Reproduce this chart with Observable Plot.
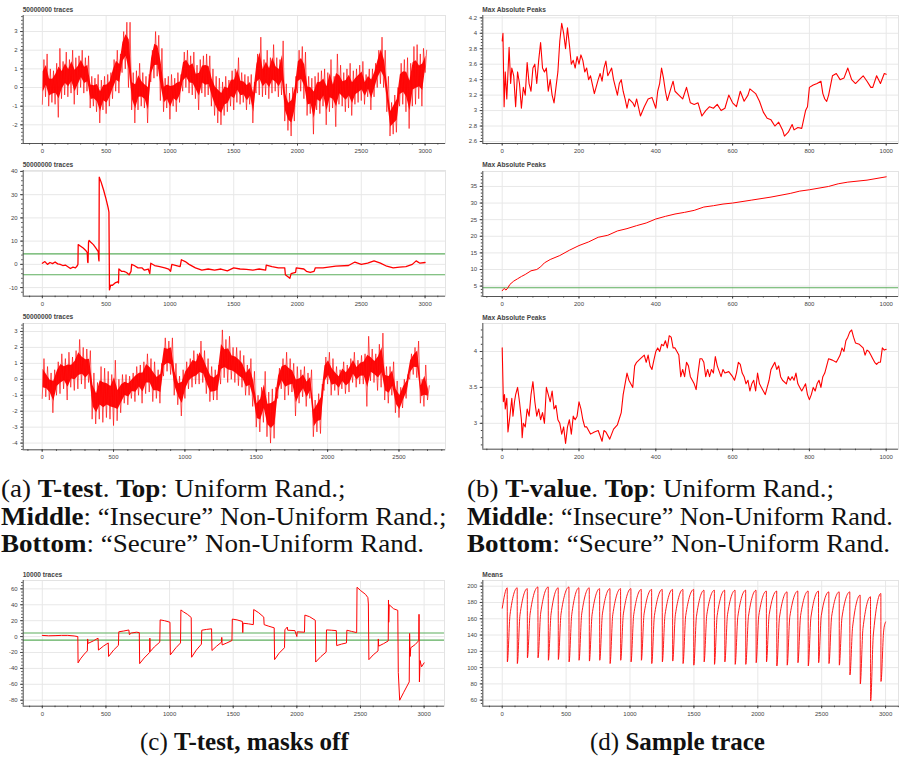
<!DOCTYPE html>
<html><head><meta charset="utf-8">
<script src="https://cdn.jsdelivr.net/npm/d3@7"></script>
<script src="https://cdn.jsdelivr.net/npm/@observablehq/plot@0.6"></script>
<style>
body{margin:0;background:#fff;}
#page{position:relative;width:899px;height:761px;overflow:hidden;background:#fff;}
.ptitle{position:absolute;font:bold 6.6px "Liberation Sans",Arial,sans-serif;color:#444;white-space:nowrap;line-height:1;}
.cap{position:absolute;font-family:"Liberation Serif","Times New Roman",serif;font-size:25px;white-space:nowrap;line-height:1;color:#111;transform-origin:0 0;}
.wide{transform:scaleX(1.08);}
.wide2{transform:scaleX(1.05);}
</style></head><body><div id="page"></div>
<script>
// ---------- DATA ----------
// (a) top: uniform random t-test, per 25-sample bin: low / high envelope
const tA1Step = 25;
const loA1 = [-0.9,-0.5,-1.0,-0.8,-0.9,-1.6,-0.6,-0.4,-0.5,-0.3,
 -0.9,-0.4,0.0,-0.3,-0.2,-1.1,-1.0,-1.3,-1.9,-1.2,
 -1.4,-1.0,-0.6,-0.2,-0.3,0.8,1.0,0.0,-1.2,-1.9,
 -1.2,-1.0,-1.1,-1.9,0.3,0.5,0.6,-0.7,-1.3,-1.1,
 -1.7,-1.0,-1.3,-0.8,-0.2,0.0,-0.3,-0.4,-0.6,-1.2,
 -0.3,-0.5,-0.4,-1.0,-1.5,-1.9,-2.0,-1.5,-1.3,-1.0,
 -1.2,-0.8,-0.9,-0.8,-1.2,-0.9,-1.9,-0.3,-0.4,-0.5,
 -0.4,-0.6,-0.3,-0.2,-0.5,-0.4,-1.8,-2.3,-2.6,-1.8,
 -0.3,-0.2,-0.6,-1.5,-1.4,-2.5,-1.2,-1.4,-1.0,-2.0,
 -1.3,-1.1,-2.1,-0.9,-1.0,-1.3,-1.1,-1.5,-0.9,-0.8,
 -0.7,-0.9,-0.5,-1.2,-0.5,0.0,0.2,0.0,-1.3,-2.6,
 -2.5,-2.4,-1.0,-0.9,-1.3,-2.2,-1.0,-0.9,-0.6,-1.0,
 0.8];
const hiA1 = [1.5,1.8,1.0,0.9,1.3,2.1,1.4,1.9,1.5,2.0,
 1.6,1.7,2.0,1.6,1.7,0.6,0.5,0.7,0.4,0.6,
 0.7,0.8,1.5,2.0,1.8,3.0,3.5,3.5,0.8,0.9,
 1.3,0.8,0.6,0.7,2.0,3.0,2.8,2.1,0.5,0.6,
 0.7,0.5,0.8,0.7,1.9,2.0,1.7,1.9,1.2,1.5,
 1.7,1.8,1.7,1.0,0.6,0.5,0.3,0.6,0.4,0.9,
 1.0,1.6,0.8,0.7,0.6,0.7,0.3,1.8,2.7,1.5,
 2.0,1.6,2.3,1.6,1.5,2.5,0.2,-0.3,0.0,0.6,
 2.0,2.2,1.9,0.6,0.5,0.6,0.8,0.9,1.0,0.8,
 1.5,0.6,1.8,1.2,0.8,1.0,1.3,0.9,1.0,1.2,
 1.4,0.7,1.0,1.0,1.3,2.0,2.7,2.0,0.6,-0.8,
 -0.4,0.0,1.3,1.5,1.6,1.3,2.2,2.3,1.8,2.1,
 2.0];

// (a) middle: "insecure" non-uniform, [sample, t]
const insecureT = [[0,0.5],[20,1.2],[40,0],[60,0.8],[80,0.3],[100,1],[120,0.2],[140,0],[160,-0.5],[180,-0.3],[200,-1],[220,-1.8],[240,-1.2],[260,-1.5],[275,-0.5],[279,0],[281,8.5],[300,7.8],[320,7],[340,6],[352,5],[355,1],[358,0.8],[362,9.5],[366,10.3],[380,9.5],[400,8.5],[420,7],[438,5.5],[442,2],[444,1.5],[446,37.5],[460,35.5],[480,32],[500,28],[515,24.5],[522,22.5],[526,-11],[535,-9],[550,-9],[570,-8],[590,-7.5],[597,-8],[600,-2],[620,-3],[640,-3],[660,-3.5],[680,-4.5],[695,-3],[700,0],[720,-0.5],[750,-1.5],[780,-1.5],[800,-2.5],[830,-2],[842,-4],[850,0.5],[880,-0.5],[920,-1],[960,-1.5],[990,-2],[1005,-3],[1015,0],[1050,-0.5],[1080,-1],[1090,2],[1120,1.2],[1150,0],[1200,-1.5],[1250,-2.5],[1300,-2],[1350,-2.5],[1400,-2],[1450,-2.8],[1500,-1.5],[1550,-2],[1600,-2.2],[1650,-2.5],[1700,-2],[1750,-2.5],[1755,-0.3],[1800,-1],[1850,-1.5],[1900,-1.5],[1905,-4.5],[1940,-6],[1950,-4],[1985,-3.5],[1990,-1.5],[2050,-2],[2070,-3],[2100,-3.5],[2130,-3],[2140,-1.5],[2200,-1.5],[2300,-0.8],[2400,-0.5],[2450,1],[2500,0],[2550,0.5],[2600,1.5],[2650,0.5],[2700,-0.8],[2750,-1.5],[2800,-1.2],[2850,-1],[2900,0],[2930,1.5],[2960,0.5],[3000,0.8]];
const thresholds = [4.5, -4.5];

// (a) bottom: "secure" non-uniform, per 25-sample bin low / high
const tA3Step = 25;
const loA3 = [-1.2,-1.1,-1.3,-2.1,-1.0,-0.9,-0.6,-1.3,-0.5,-0.7,
 -0.6,-0.3,-0.6,-0.2,-2.5,-2.8,-2.5,-2.7,-2.4,-2.5,
 -2.9,-2.6,-2.1,-1.5,-1.6,-1.2,-1.4,-1.0,-1.5,-0.9,
 -0.8,-1.4,-1.2,-1.5,0.2,0.5,0.3,-1.0,-1.6,-2.3,
 -1.2,-0.6,-0.5,-0.3,-0.3,-0.2,-0.9,-1.4,-1.3,-1.3,
 -0.3,0.1,-0.2,0.0,-0.2,-0.4,-0.5,-1.0,-1.0,-1.7,
 -3.0,-3.3,-2.7,-3.6,-4.0,-3.7,-1.2,-0.6,-1.3,-1.0,
 -0.8,-2.3,-1.5,-1.1,-1.7,-1.2,-3.6,-3.3,-3.4,-0.7,
 -0.3,-1.0,-0.7,-1.0,-0.6,-0.9,-0.8,-0.2,-0.5,-0.3,
 -0.3,-1.7,-0.1,-0.2,-0.7,-0.5,-1.3,-1.5,-1.0,-2.1,
 -2.4,-1.8,-1.2,0.0,0.3,0.1,-1.5,-1.7,-1.3];
const hiA3 = [1.3,0.8,0.4,0.6,1.1,1.6,1.3,1.7,1.4,1.8,
 2.5,2.0,1.9,1.8,0.4,-0.2,0.8,0.7,0.5,0.3,
 1.2,0.0,0.3,0.3,0.2,0.4,0.8,0.9,1.1,1.6,
 1.3,1.1,0.6,1.0,2.6,2.4,2.6,1.0,0.2,0.6,
 1.1,1.3,1.8,1.6,2.4,1.8,1.3,0.8,0.6,0.9,
 3.1,2.5,2.7,2.0,2.0,1.8,1.5,0.9,1.3,0.5,
 -1.0,-0.5,0.5,-0.8,-0.6,-0.5,0.7,1.3,1.7,1.3,
 1.0,0.8,0.6,0.8,0.4,0.6,-1.3,-0.9,-0.3,1.4,
 1.7,1.3,0.8,0.6,1.1,0.9,1.3,1.7,1.2,1.5,
 1.6,2.7,1.9,1.6,2.2,2.9,0.8,0.8,1.1,-0.1,
 -0.5,0.0,0.3,1.6,2.0,2.4,0.0,0.9,-0.4];

// (b) top: max absolute peaks, uniform
const peaksUniform = [[0,3.9],[2,4.0],[5,3.05],[8,3.5],[12,3.15],[18,3.82],[22,3.35],[25,3.55],[30,3.45],[35,3.05],[40,3.5],[45,3.35],[50,3.03],[55,3.3],[60,3.2],[65,3.62],[70,3.35],[75,3.25],[80,3.55],[85,3.6],[90,3.35],[95,3.65],[100,3.88],[105,3.55],[110,3.5],[115,3.55],[120,3.25],[125,3.4],[130,3.2],[135,3.1],[140,3.3],[145,3.5],[150,3.9],[155,4.13],[160,4.0],[165,3.8],[170,4.07],[175,3.85],[180,3.6],[185,3.65],[190,3.55],[195,3.7],[200,3.6],[205,3.72],[210,3.65],[215,3.5],[220,3.55],[225,3.4],[230,3.45],[240,3.22],[250,3.4],[255,3.48],[260,3.38],[265,3.55],[270,3.64],[275,3.45],[280,3.5],[285,3.55],[290,3.4],[295,3.3],[300,3.2],[305,3.35],[310,3.4],[315,3.25],[320,3.15],[325,3.03],[330,3.15],[340,3.1],[345,3.05],[350,3.15],[360,2.93],[370,3.05],[380,3.15],[390,3.17],[400,3.03],[405,3.25],[410,3.35],[415,3.55],[420,3.42],[425,3.25],[430,3.13],[440,3.3],[445,3.38],[450,3.25],[460,3.2],[470,3.15],[480,3.3],[490,3.1],[500,3.08],[510,3.1],[520,2.93],[530,3.0],[540,3.05],[550,3.03],[560,3.08],[570,3.0],[580,3.03],[590,3.2],[600,3.1],[610,3.05],[620,3.25],[630,3.12],[640,3.2],[645,3.28],[660,3.22],[670,3.12],[680,2.98],[690,2.9],[700,2.88],[710,2.8],[720,2.85],[730,2.75],[735,2.67],[745,2.72],[755,2.82],[760,2.75],[770,2.78],[780,2.77],[790,3.0],[795,3.05],[800,3.3],[810,3.33],[820,3.35],[830,3.38],[835,3.22],[840,3.15],[845,3.12],[850,3.2],[860,3.45],[870,3.48],[880,3.4],[890,3.42],[900,3.55],[910,3.4],[920,3.35],[930,3.4],[940,3.45],[950,3.38],[960,3.3],[965,3.3],[975,3.45],[985,3.35],[995,3.48],[1000,3.47]];

// (b) middle: max absolute peaks, insecure
const peaksInsecure = [[0,3.6],[5,4.3],[10,3.8],[15,4.5],[20,5.5],[30,6.5],[40,7.2],[50,7.9],[60,8.5],[75,9.6],[90,10],[100,10.8],[110,12],[125,13],[150,14.2],[175,15.8],[200,17.2],[225,18.3],[250,19.7],[275,20.3],[300,21.6],[325,22.3],[350,23.2],[375,24],[400,25.2],[425,26],[450,26.7],[475,27.2],[500,27.8],[525,28.8],[550,29.2],[575,29.7],[600,30],[650,30.9],[700,31.8],[750,32.9],[775,33.6],[800,34],[850,35],[875,35.8],[900,36.3],[950,36.9],[1000,37.9]];

// (b) bottom: max absolute peaks, secure
const peaksSecure = [[0,4.05],[3,3.3],[6,3.4],[8,3.2],[12,3.35],[15,2.88],[20,3.1],[25,3.35],[28,3.1],[32,3.3],[35,3.4],[40,3.5],[45,3.3],[50,3.05],[52,2.8],[55,3.0],[60,2.95],[65,3.2],[70,3.1],[75,3.4],[80,3.58],[85,3.3],[90,3.1],[95,3.2],[100,3.05],[105,3.15],[110,3.0],[115,3.5],[120,3.4],[125,3.3],[130,3.45],[135,3.2],[140,3.25],[145,3.05],[150,3.0],[155,2.85],[160,2.95],[165,2.72],[170,2.95],[175,3.05],[180,2.85],[185,3.1],[190,3.05],[195,3.1],[200,3.3],[205,3.2],[210,3.05],[215,2.95],[220,2.95],[230,2.85],[240,2.88],[250,2.9],[260,2.75],[265,2.9],[270,2.88],[280,2.78],[290,2.92],[300,2.98],[310,3.15],[315,3.4],[320,3.55],[325,3.7],[330,3.6],[340,3.5],[345,3.8],[350,3.85],[360,3.9],[370,3.95],[375,3.85],[380,3.95],[385,3.8],[390,3.75],[395,3.88],[400,4.0],[405,4.05],[410,4.0],[415,4.1],[420,4.08],[425,4.15],[430,4.05],[435,4.22],[440,4.2],[445,4.05],[450,4.05],[455,4.0],[460,3.95],[465,3.65],[470,3.75],[475,3.65],[480,3.85],[485,3.8],[490,3.65],[500,3.55],[505,3.47],[510,3.7],[515,3.9],[520,3.9],[525,3.85],[530,3.65],[535,3.75],[540,3.65],[545,3.75],[550,3.7],[555,3.93],[560,3.8],[570,3.65],[575,3.75],[580,3.7],[590,3.72],[600,3.65],[605,3.6],[610,3.7],[615,3.85],[620,3.82],[625,3.7],[630,3.65],[635,3.55],[640,3.6],[645,3.45],[650,3.55],[655,3.6],[660,3.45],[665,3.7],[670,3.55],[675,3.5],[680,3.45],[685,3.4],[690,3.5],[695,3.6],[700,3.75],[705,3.8],[710,3.85],[715,3.75],[720,3.8],[725,3.65],[730,3.6],[740,3.55],[745,3.65],[750,3.6],[755,3.65],[760,3.6],[765,3.7],[770,3.55],[775,3.5],[780,3.45],[785,3.5],[790,3.55],[795,3.4],[800,3.33],[805,3.4],[810,3.5],[815,3.45],[820,3.55],[825,3.6],[830,3.5],[835,3.65],[840,3.7],[845,3.8],[850,3.9],[860,3.88],[870,3.85],[875,3.9],[880,3.95],[885,4.05],[890,4.0],[895,4.15],[900,4.2],[905,4.27],[910,4.3],[915,4.2],[920,4.12],[930,4.1],[940,4.05],[945,3.95],[950,4.02],[955,4.0],[960,3.95],[965,3.9],[970,3.85],[975,3.82],[980,3.85],[985,3.85],[990,4.05],[995,4.02],[1000,4.03]];

// (c) T-test, masks off (10000 traces)
const masksOff = [[0,1.5],[50,1.0],[100,1.2],[150,1.5],[200,1.5],[250,0.8],[279,0],[281,-33],[300,-28],[330,-22],[354,-18],[356,-3],[360,-8.5],[400,-5.5],[438,-2],[441,-17],[480,-12],[518,-8],[521,-25],[560,-17],[598,-11],[601,6],[640,7],[680,8.3],[684,2.5],[700,4.5],[740,5.5],[762,5],[765,-34],[800,-27],[843,-20],[845,-2],[847,-19],[880,-13],[923,-7],[926,21],[960,20],[1003,18],[1006,-23],[1050,-14],[1086,-8],[1089,33.5],[1110,31],[1140,28],[1170,24],[1173,-26],[1210,-17],[1250,-9.5],[1253,8],[1290,9],[1330,9.8],[1333,-17.5],[1370,-12],[1408,-7],[1410,-1],[1413,-10.5],[1450,-8],[1490,-5],[1493,22],[1530,21],[1572,19],[1575,5],[1578,16.8],[1620,16],[1658,15],[1661,34],[1700,30],[1740,24.5],[1743,15],[1780,13],[1822,11],[1825,-29],[1860,-21],[1903,-14],[1906,8.5],[1925,12],[1928,8],[1985,7.5],[1988,5.9],[2000,0],[2003,6],[2060,5.5],[2063,27],[2100,25],[2145,20.5],[2148,-32],[2190,-25],[2230,-19.5],[2233,8.4],[2270,8],[2310,7.5],[2313,-11.3],[2350,-9.5],[2390,-8],[2393,8],[2430,6.5],[2470,5],[2473,62],[2500,58],[2540,53],[2558,49],[2562,41],[2566,-29],[2600,-23],[2638,-18],[2640,-3],[2643,-12],[2680,-9],[2718,-5.5],[2720,46],[2722,18],[2726,40],[2760,35],[2793,33],[2797,-45],[2808,-80],[2840,-70],[2883,-57],[2886,4],[2890,-25],[2895,-14],[2930,-10],[2958,-5],[2960,28],[2963,-57],[2968,-30],[2980,-38],[3000,-33]];

// (d) sample trace (means): start, drop samples, peak before drop, min after drop, knee value
const meansStart = [0, 173];
const meansEnd = [3000, 156];
const dropT = [39,117,196,279,360,438,522,600,681,762,843,926,1007,1088,1169,1252,1333,1414,1498,1579,1660,1741,1822,1905,1986,2067,2148,2229,2313,2394,2475,2556,2637,2720,2801,2882,2963];
const peakV = [198,198,197,199,199,198,199,198,198,197,197,197,197,196,196,196,196,196,196,195,195,195,195,195,195,194,194,193,194,194,194,193,193,193,189,187,191];
const minV = [107,105,112,112,109,110,107,109,108,109,105,109,107,109,105,107,108,105,103,107,104,107,104,104,106,107,102,103,106,102,106,105,103,91,80,59,83];
const kneeV = [165,165,166,167,166,166,165,166,165,166,165,166,165,166,164,165,165,164,163,165,164,165,163,163,164,165,162,163,164,162,164,163,162,150,148,140,145];

// tick labels
const xTicks3000 = [0,500,1000,1500,2000,2500,3000];
const xTicks2500 = [0,500,1000,1500,2000,2500];
const xTicks1000 = [0,200,400,600,800,1000];
const yTicksA1 = [-2,-1,0,1,2,3];
const yTicksA2 = [-10,0,10,20,30,40];
const yTicksA3 = [-4,-3,-2,-1,0,1,2,3];
const yTicksB1 = [2.6,2.8,3,3.2,3.4,3.6,3.8,4,4.2];
const yTicksB2 = [5,10,15,20,25,30,35];
const yTicksB3 = [3,3.5,4];
const yTicksC = [-80,-60,-40,-20,0,20,40,60];
const yTicksD = [60,80,100,120,140,160,180,200];

// ---------- BUILD ----------
const RED = "#ff0000", GREEN = "#5cae5c";
const page = document.getElementById("page");
const fmt = d => String(+d.toFixed(2));
const minor = (lo, hi, step) => d3.range(Math.ceil(lo/step)*step, hi, step).map(v => +v.toFixed(4));

function zigzag(step, lo, hi) {
  const pts = [];
  lo.forEach((l, i) => { pts.push({t: i*step, v: l}); pts.push({t: i*step + step/2, v: hi[i]}); });
  return pts;
}
// dense core of each bin's envelope
function core(step, lo, hi) {
  return lo.map((l, i) => ({t: i*step + step/4, a: l + 0.27*(hi[i]-l), b: hi[i] - 0.27*(hi[i]-l)}));
}
const pairs = a => a.map(([t, v]) => ({t, v}));

function meansTrace() {
  const pts = [{t: meansStart[0], v: meansStart[1]}];
  dropT.forEach((t, i) => {
    pts.push({t, v: peakV[i]});
    pts.push({t: t + 1, v: minV[i]});
    pts.push({t: t + 22, v: kneeV[i]});
  });
  pts.push({t: meansEnd[0], v: meansEnd[1]});
  return pts;
}

function noisy(step, lo, hi) {
  return [
    Plot.areaY(core(step, lo, hi), {x: "t", y1: "a", y2: "b", fill: RED, fillOpacity: 0.95, clip: true}),
    Plot.line(zigzag(step, lo, hi), {x: "t", y: "v", stroke: RED, strokeWidth: 0.8, strokeOpacity: 0.8, clip: true})
  ];
}

function panel(p) {
  const [fl, ft, fr, fb] = p.box;
  const mt = 4, mb = 14;
  const [x0, x1] = p.xDomain, [y0, y1] = p.yDomain;
  const axisStyle = {stroke: "#444", fill: "#444", label: null};
  const chart = Plot.plot({
    width: p.svgWidth, height: mt + (fb - ft) + mb,
    marginLeft: fl - p.svgLeft, marginRight: p.svgLeft + p.svgWidth - fr,
    marginTop: mt, marginBottom: mb,
    x: {domain: p.xDomain, axis: null, label: null},
    y: {domain: p.yDomain, axis: null, label: null},
    style: {fontFamily: '"Liberation Sans", Arial, sans-serif', fontSize: "6px", color: "#444", background: "transparent", overflow: "visible"},
    marks: [
      Plot.gridX(p.xMajor, {stroke: "#e8e8e8", strokeOpacity: 1}),
      Plot.gridY(p.yMajor, {stroke: "#e8e8e8", strokeOpacity: 1}),
      Plot.frame({stroke: "#e3e3e3"}),
      ...p.marks,
      Plot.ruleX([x0], {stroke: "#444", strokeWidth: 0.9}),
      Plot.ruleY([y0], {stroke: "#444", strokeWidth: 0.9}),
      Plot.axisX(minor(x0, x1, p.xMinor), {...axisStyle, anchor: "bottom", tickSize: 1.5, tickFormat: () => ""}),
      Plot.axisX(p.xMajor, {...axisStyle, anchor: "bottom", tickSize: 2.6, tickPadding: 2.6, tickFormat: fmt}),
      Plot.axisY(minor(y0, y1, p.yMinor), {...axisStyle, anchor: "left", tickSize: 1.5, tickFormat: () => ""}),
      Plot.axisY(p.yMajor, {...axisStyle, anchor: "left", tickSize: 2.6, tickPadding: 3, tickFormat: fmt})
    ]
  });
  chart.style.position = "absolute";
  chart.style.left = p.svgLeft + "px";
  chart.style.top = (ft - mt) + "px";
  page.appendChild(chart);
  const t = document.createElement("div");
  t.className = "ptitle";
  t.textContent = p.title;
  t.style.left = fl + "px";
  t.style.top = (ft - 8.5) + "px";
  page.appendChild(t);
}

const A = {svgLeft: 0, svgWidth: 450};
const B = {svgLeft: 450, svgWidth: 449};

panel({...A, title: "50000000 traces", box: [22.7, 15, 445, 143], xDomain: [-150, 3160], yDomain: [-3.0, 3.86],
  xMajor: xTicks3000, xMinor: 100, yMajor: yTicksA1, yMinor: 0.2,
  marks: noisy(tA1Step, loA1, hiA1)});

panel({...A, title: "50000000 traces", box: [22.7, 170, 445, 295.7], xDomain: [-150, 3160], yDomain: [-13.7, 40.4],
  xMajor: xTicks3000, xMinor: 100, yMajor: yTicksA2, yMinor: 2,
  marks: [
    Plot.ruleY(thresholds, {stroke: GREEN, strokeWidth: 1.1}),
    Plot.line(pairs(insecureT), {x: "t", y: "v", stroke: RED, strokeWidth: 1.3, clip: true})]});

panel({...A, title: "50000000 traces", box: [22.7, 322.7, 445, 449], xDomain: [-133, 2826], yDomain: [-4.42, 3.5],
  xMajor: xTicks2500, xMinor: 100, yMajor: yTicksA3, yMinor: 0.2,
  marks: noisy(tA3Step, loA3, hiA3)});

panel({...B, title: "Max Absolute Peaks", box: [482.3, 15, 898, 143], xDomain: [-50.5, 1032], yDomain: [2.574, 4.23],
  xMajor: xTicks1000, xMinor: 40, yMajor: yTicksB1, yMinor: 0.04,
  marks: [Plot.line(pairs(peaksUniform), {x: "t", y: "v", stroke: RED, strokeWidth: 1.1, clip: true})]});

panel({...B, title: "Max Absolute Peaks", box: [482.3, 170.7, 898, 295.7], xDomain: [-50.5, 1032], yDomain: [1.87, 39.5],
  xMajor: xTicks1000, xMinor: 40, yMajor: yTicksB2, yMinor: 1,
  marks: [
    Plot.ruleY([thresholds[0]], {stroke: GREEN, strokeWidth: 1.1}),
    Plot.line(pairs(peaksInsecure), {x: "t", y: "v", stroke: RED, strokeWidth: 1, clip: true})]});

panel({...B, title: "Max Absolute Peaks", box: [482.3, 323.3, 898, 449], xDomain: [-50.5, 1032], yDomain: [2.64, 4.39],
  xMajor: xTicks1000, xMinor: 40, yMajor: yTicksB3, yMinor: 0.1,
  marks: [Plot.line(pairs(peaksSecure), {x: "t", y: "v", stroke: RED, strokeWidth: 1.1, clip: true})]});

panel({...A, title: "10000 traces", box: [22.7, 580, 444, 705.7], xDomain: [-150, 3160], yDomain: [-87.5, 70.5],
  xMajor: xTicks3000, xMinor: 100, yMajor: yTicksC, yMinor: 4,
  marks: [
    Plot.ruleY(thresholds, {stroke: GREEN, strokeWidth: 1.1}),
    Plot.line(pairs(masksOff), {x: "t", y: "v", stroke: RED, strokeWidth: 1, clip: true})]});

panel({...B, title: "Means", box: [482.3, 580, 898, 705.7], xDomain: [-152, 3101], yDomain: [52.6, 207],
  xMajor: xTicks3000, xMinor: 100, yMajor: yTicksD, yMinor: 4,
  marks: [Plot.line(meansTrace(), {x: "t", y: "v", stroke: RED, strokeWidth: 0.9, curve: "monotone-x", clip: true})]});

// captions
const captions = [
  {x: 1, y: 476, cls: "cap wide", html: "(a) <b>T-test</b>. <b>Top</b>: Uniform Rand.;"},
  {x: 1, y: 503.5, cls: "cap wide", html: "<b>Middle</b>: “Insecure” Non-Uniform Rand.;"},
  {x: 1, y: 531, cls: "cap wide", html: "<b>Bottom</b>: “Secure” Non-Uniform Rand."},
  {x: 467, y: 476, cls: "cap wide", html: "(b) <b>T-value</b>. <b>Top</b>: Uniform Rand.;"},
  {x: 467, y: 503.5, cls: "cap wide2", html: "<b>Middle</b>: “Insecure” Non-Uniform Rand."},
  {x: 467, y: 531, cls: "cap wide", html: "<b>Bottom</b>: “Secure” Non-Uniform Rand."},
  {x: 140, y: 729, cls: "cap", html: "(c) <b>T-test, masks off</b>"},
  {x: 590, y: 729, cls: "cap", html: "(d) <b>Sample trace</b>"}
];
captions.forEach(c => {
  const d = document.createElement("div");
  d.className = c.cls;
  d.style.left = c.x + "px";
  d.style.top = c.y + "px";
  d.innerHTML = c.html;
  page.appendChild(d);
});
</script></body></html>
